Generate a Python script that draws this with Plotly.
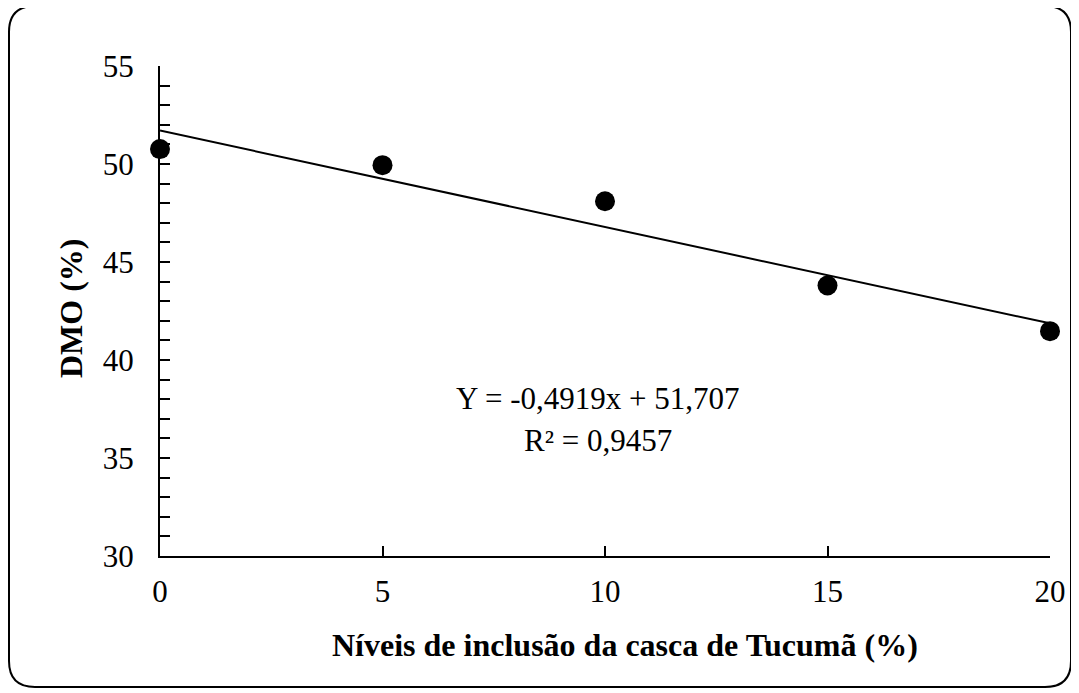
import plotly.graph_objects as go

# Data
levels = [0, 5, 10, 15, 20]
dmo = [50.76, 49.94, 48.10, 43.80, 41.47]
slope = -0.4919
intercept = 51.707
equation_text = "Y = -0,4919x + 51,707"
r2_text = "R² = 0,9457"
x_title = "Níveis de inclusão da casca de Tucumã (%)"
y_title = "DMO (%)"

# page is offset by the browser's default 8px body margin
OFF = 8
W, H = 1079 - OFF, 693 - OFF
L, R, T, B = 160 - OFF, 29, 66 - OFF, 137
PW, PH = W - L - R, H - T - B

FONT = "Liberation Serif, Times New Roman, serif"
FS = 31
FT = 32

trend_x = [min(levels), max(levels)]
trend_y = [slope * x + intercept for x in trend_x]

fig = go.Figure()
fig.add_trace(go.Scatter(x=trend_x, y=trend_y, mode="lines",
                         line=dict(color="black", width=2), showlegend=False,
                         hoverinfo="skip"))
fig.add_trace(go.Scatter(x=levels, y=dmo, mode="markers",
                         marker=dict(color="black", size=20),
                         cliponaxis=False, showlegend=False))

# convert reference page pixels to paper coords
def px(x):
    return (x - OFF - L) / PW

def py(y):
    return (H - B - (y - OFF)) / PH

# rounded border
x0, x1, y0, y1, r = 9, 1071, 6, 687, 26
path = (f"M {px(x0 + r)} {py(y0)} L {px(x1 - r)} {py(y0)} "
        f"Q {px(x1)} {py(y0)} {px(x1)} {py(y0 + r)} "
        f"L {px(x1)} {py(y1 - r)} Q {px(x1)} {py(y1)} {px(x1 - r)} {py(y1)} "
        f"L {px(x0 + r)} {py(y1)} Q {px(x0)} {py(y1)} {px(x0)} {py(y1 - r)} "
        f"L {px(x0)} {py(y0 + r)} Q {px(x0)} {py(y0)} {px(x0 + r)} {py(y0)} Z")
fig.add_shape(type="path", path=path, xref="paper", yref="paper",
              line=dict(color="black", width=2), layer="above")

fig.add_annotation(x=px(598), y=py(398), xref="paper", yref="paper", text=equation_text,
                   showarrow=False, xanchor="center", yanchor="middle",
                   font=dict(family=FONT, size=FS, color="black"))
fig.add_annotation(x=px(598), y=py(440), xref="paper", yref="paper", text=r2_text,
                   showarrow=False, xanchor="center", yanchor="middle",
                   font=dict(family=FONT, size=FS, color="black"))

fig.add_annotation(x=px(625), y=py(645), xref="paper", yref="paper",
                   text=f"<b>{x_title}</b>", showarrow=False,
                   xanchor="center", yanchor="middle",
                   font=dict(family=FONT, size=FT, color="black"))
fig.add_annotation(x=px(71), y=py(308), xref="paper", yref="paper",
                   text=f"<b>{y_title}</b>", showarrow=False, textangle=-90,
                   xanchor="center", yanchor="middle",
                   font=dict(family=FONT, size=FT, color="black"))

fig.update_layout(
    width=W, height=H,
    margin=dict(l=L, r=R, t=T, b=B),
    paper_bgcolor="white", plot_bgcolor="white",
    font=dict(family=FONT, size=FS, color="black"),
    xaxis=dict(range=[0, 20], tickvals=levels, ticks="inside", ticklen=10,
               tickwidth=2, tickcolor="black", showline=True, linecolor="black",
               linewidth=2, showgrid=False, zeroline=False,
               ticklabelstandoff=7),
    yaxis=dict(range=[30, 55], dtick=5, ticks="inside", ticklen=10,
               tickwidth=2, tickcolor="black", showline=True, linecolor="black",
               linewidth=2, showgrid=False, zeroline=False,
               ticklabelstandoff=18,
               minor=dict(dtick=1, ticks="inside", ticklen=10, tickwidth=2,
                          tickcolor="black", showgrid=False)),
)

fig.write_html("out.html")
